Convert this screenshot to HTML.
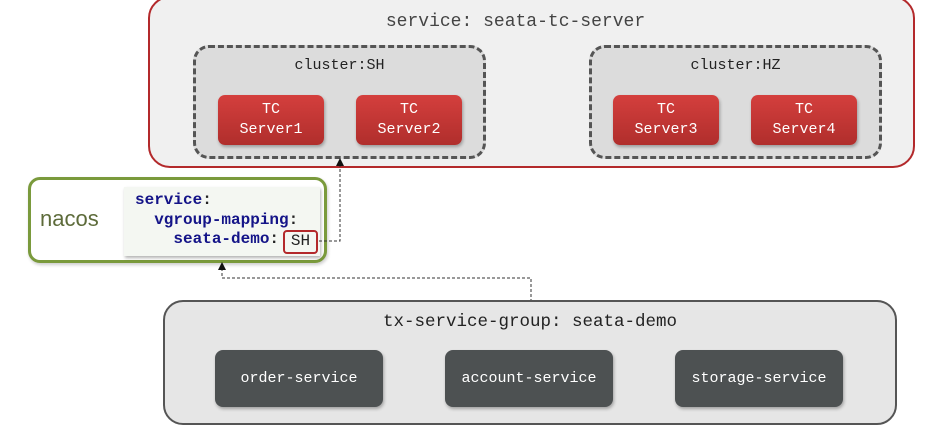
<!DOCTYPE html>
<html><head><style>
body{margin:0;width:931px;height:433px;background:#fff;position:relative;overflow:hidden;font-family:"Liberation Mono","DejaVu Sans Mono",monospace}
.a{position:absolute;box-sizing:border-box}
.red{background:linear-gradient(#d43f3d,#b02e2c);border-radius:7px;color:#fff;font-size:15px;text-align:center;line-height:20px;padding-top:5px;box-shadow:1px 2px 3px rgba(0,0,0,.3)}
.dk{background:#4d5152;border-radius:8px;color:#fff;font-size:15px;text-align:center;line-height:57px;box-shadow:1px 2px 3px rgba(0,0,0,.3)}
.cl{background:#dcdcdc;border:3px dashed #555;border-radius:16px}
.lbl{font-size:15px;color:#222;text-align:center;width:100%;top:9px}
</style></head><body>
<div class="a" style="left:148px;top:-4px;width:767px;height:172px;border:2.5px solid #b3292b;border-radius:22px;background:#f0f0f0"></div>
<div class="a" style="left:132px;top:12px;width:767px;text-align:center;font-size:18px;color:#444">service: seata-tc-server</div>
<div class="a cl" style="left:193px;top:45px;width:293px;height:114px"><div class="a lbl">cluster:SH</div></div>
<div class="a cl" style="left:589px;top:45px;width:293px;height:114px"><div class="a lbl">cluster:HZ</div></div>
<div class="a red" style="left:218px;top:95px;width:106px;height:50px">TC<br>Server1</div>
<div class="a red" style="left:356px;top:95px;width:106px;height:50px">TC<br>Server2</div>
<div class="a red" style="left:613px;top:95px;width:106px;height:50px">TC<br>Server3</div>
<div class="a red" style="left:751px;top:95px;width:106px;height:50px">TC<br>Server4</div>

<div class="a" style="left:28px;top:177px;width:299px;height:86px;border:3px solid #7a9a3c;border-radius:12px;background:#fff;box-shadow:1px 2px 3px rgba(0,0,0,.2)"></div>
<div class="a" style="left:40px;top:206px;font-family:'Liberation Sans','DejaVu Sans',sans-serif;font-size:22px;color:#5d6b3a">nacos</div>
<div class="a" style="left:124px;top:187px;width:196px;height:69px;background:#f4f7f2;box-shadow:1px 2px 3px rgba(0,0,0,.3)"></div>
<div class="a" style="left:135px;top:191px;font-size:16px;line-height:19.5px;font-weight:bold;color:#141488;white-space:pre">service<span style="color:#222">:</span>
  vgroup-mapping<span style="color:#222">:</span>
    seata-demo<span style="color:#222">:</span></div>
<div class="a" style="left:283px;top:230px;width:35px;height:24px;border:2.5px solid #b3292b;border-radius:4px;font-size:16px;color:#222;text-align:center;line-height:19px">SH</div>

<svg class="a" style="left:0;top:0" width="931" height="433">
<g fill="none" stroke="#333" stroke-width="1" stroke-dasharray="3,2">
<path d="M319 241H340V164"/>
<path d="M222 268V278H531V300"/>
</g>
<path d="M336 166L340 158L344 166Z" fill="#111"/>
<path d="M218 270L222 262L226 270Z" fill="#111"/>
</svg>

<div class="a" style="left:163px;top:300px;width:734px;height:125px;border:2.5px solid #555;border-radius:20px;background:#e6e6e6"></div>
<div class="a" style="left:163px;top:312px;width:734px;text-align:center;font-size:17.5px;color:#222">tx-service-group: seata-demo</div>
<div class="a dk" style="left:215px;top:350px;width:168px;height:57px">order-service</div>
<div class="a dk" style="left:445px;top:350px;width:168px;height:57px">account-service</div>
<div class="a dk" style="left:675px;top:350px;width:168px;height:57px">storage-service</div>
</body></html>
